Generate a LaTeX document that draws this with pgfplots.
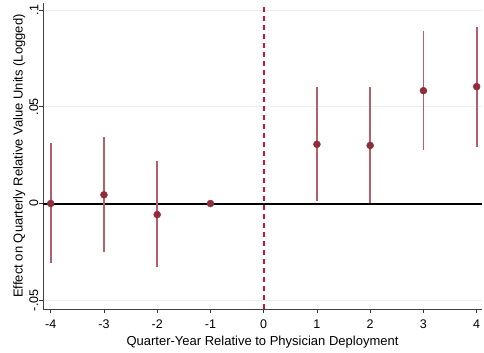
\documentclass[border=0pt]{standalone}
\usepackage{pgfplots}
\pgfplotsset{compat=1.18}
\usepackage{fontspec}
\setmainfont{Liberation Sans}
\definecolor{maroon}{RGB}{144,45,58}
\definecolor{cilight}{RGB}{180,95,105}
\definecolor{dashred}{RGB}{200,20,60}
\definecolor{gridc}{RGB}{232,240,242}
\begin{document}
\begin{tikzpicture}
\begin{axis}[
 scale only axis, width=439pt, height=306pt,
 xmin=-4.145, xmax=4.1, ymin=-0.0545, ymax=0.1036,
 axis x line*=bottom, axis y line*=left,
 xtick={-4,-3,-2,-1,0,1,2,3,4},
 xticklabels={-4,-3,-2,-1,0,1,2,3,4},
 ytick={-0.05,0,0.05,0.1}, yticklabels={-.05,0,.05,.1},
 yticklabel style={rotate=90, anchor=south, inner sep=0.5pt},
 xticklabel style={yshift=-3pt},
 ymajorgrids, grid style={gridc, line width=0.8pt},
 tick align=outside, major tick length=4pt,
 tick style={black!80, line width=0.6pt},
 axis line style={black!75, line width=0.6pt},
 every tick label/.append style={font=\fontsize{12.5}{14}\selectfont},
 label style={font=\fontsize{13}{15}\selectfont},
 xlabel={Quarter-Year Relative to Physician Deployment},
 ylabel={Effect on Quarterly Relative Value Units (Logged)},
 xlabel style={yshift=-1pt},
 clip=false,
]
\addplot[color=dashred, line width=1.8pt, dash pattern=on 5pt off 4pt, mark=none] coordinates {(0,-0.0545) (0,0.1036)};
\addplot[color=black, line width=2pt, mark=none] coordinates {(-4.145,0) (4.1,0)};
\addplot[only marks, mark=*, mark size=3.5pt, color=maroon,
  error bars/.cd, y dir=both, y explicit, error mark=none,
  error bar style={draw=cilight, line width=1.8pt}]
 table[x=x, y=y, y error plus=ep, y error minus=em] {
x y ep em
-4 0.0000 0.0315 0.0309
-3 0.0045 0.0297 0.0297
-2 -0.0057 0.0276 0.0273
-1 0.0000 0 0
1 0.0306 0.0295 0.0292
2 0.0300 0.0304 0.0296
3 0.0583 0.0307 0.0309
4 0.0604 0.0309 0.0310
};
\end{axis}
\pgfresetboundingbox
\path ([shift={(-43pt,-43pt)}]current axis.south west) rectangle ([shift={(2pt,3pt)}]current axis.north east);
\end{tikzpicture}
\end{document}
